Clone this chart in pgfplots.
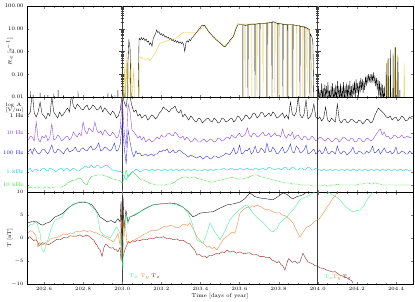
\documentclass[border=0pt]{standalone}
\usepackage{pgfplots}
\usepackage{pgfplotstable}
\pgfplotsset{compat=1.18}
\definecolor{cyel}{RGB}{235,200,40}
\definecolor{cpur}{RGB}{130,60,230}
\definecolor{cblu}{RGB}{40,40,220}
\definecolor{ccya}{RGB}{0,210,230}
\definecolor{cgrn}{RGB}{60,220,60}
\definecolor{cmint}{RGB}{60,240,150}
\definecolor{corg}{RGB}{240,130,50}
\definecolor{cbrn}{RGB}{140,20,20}

\pgfplotstableread{
d k p b c g
202.52 77 52 40 22 4
202.53 80 56 43 24 5
202.54 100 55 38 20 4
202.55 79 51 44 22 4
202.56 75 70 41 23 5
202.57 80 53 38 21 5
202.58 90 50 39 21 4
202.59 78 56 42 23 4
202.60 76 54 43 24 4
202.61 73 57 40 22 5
202.62 79 51 38 21 5
202.63 76 55 42 24 4
202.64 95 68 47 23 4
202.65 80 52 40 22 5
202.66 77 53 39 20 5
202.67 74 57 43 22 5
202.68 80 55 42 23 5
202.69 76 51 40 24 5
202.70 78 53 38 21 6
202.71 81 55 42 23 7
202.72 84 56 44 24 9
202.73 80 52 40 21 10
202.74 97 54 41 22 11
202.75 86 60 42 24 12
202.76 83 57 45 23 12
202.77 88 55 41 21 13
202.78 86 59 40 21 14
202.79 83 56 43 23 13
202.80 82 70 44 24 10
202.81 85 61 42 26 8
202.82 87 58 41 25 7
202.83 82 64 44 24 12
202.84 84 62 46 27 15
202.85 87 60 42 25 16
202.86 85 70 43 24 16
202.87 82 62 45 27 17
202.88 83 59 49 26 17
202.89 86 61 41 24 17
202.90 80 57 42 25 17
202.91 84 62 45 26 16
202.92 82 60 44 27 16
202.93 79 57 42 25 15
202.94 77 56 41 24 14
202.95 81 60 44 22 13
202.96 79 58 49 21 13
202.97 74 54 41 22 12
202.98 76 55 42 20 12
202.99 82 64 48 21 11
203.00 98 92 70 19 9
203.01 90 60 45 15 14
203.02 85 45 28 12 22
203.03 100 88 62 16 15
203.04 95 80 50 18 17
203.05 86 62 40 20 20
203.06 80 60 35 21 19
203.07 82 57 41 23 17
203.08 76 54 38 22 15
203.09 78 56 39 20 13
203.10 74 52 36 21 12
203.11 76 55 37 22 12
203.12 77 50 38 23 11
203.13 72 52 36 22 10
203.14 74 53 37 21 9
203.15 77 50 38 23 8
203.16 76 51 36 22 8
203.17 73 53 38 21 7
203.18 75 55 38 23 7
203.19 79 53 41 22 7
203.20 81 57 40 21 7
203.21 85 55 42 22 7
203.22 83 55 41 23 7
203.23 82 58 43 21 8
203.24 80 59 39 22 8
203.25 83 57 40 23 8
203.26 84 56 42 21 9
203.27 86 60 39 22 10
203.28 81 58 40 23 12
203.29 79 55 42 21 13
203.30 82 54 41 22 14
203.31 75 56 39 23 15
203.32 78 52 38 21 15
203.33 75 55 36 22 15
203.34 72 53 35 23 14
203.35 76 50 37 21 14
203.36 74 51 36 22 15
203.37 71 54 35 23 15
203.38 70 52 34 21 14
203.39 74 50 35 22 13
203.40 73 50 36 22 13
203.41 69 52 33 21 12
203.42 71 53 34 23 12
203.43 73 50 36 22 11
203.44 74 51 35 21 11
203.45 71 53 33 23 10
203.46 70 52 34 22 10
203.47 74 50 36 21 10
203.48 72 51 36 23 11
203.49 69 54 34 22 11
203.50 70 53 35 22 12
203.51 74 51 36 23 12
203.52 73 52 37 24 13
203.53 70 54 39 22 13
203.54 71 55 38 22 14
203.55 73 53 37 23 14
203.56 74 57 40 24 15
203.57 70 55 44 22 14
203.58 72 54 38 23 14
203.59 76 57 40 22 13
203.60 75 59 47 24 13
203.61 71 55 38 23 13
203.62 73 56 39 22 13
203.63 77 58 42 23 14
203.64 76 64 41 24 14
203.65 73 57 44 22 15
203.66 75 55 38 23 16
203.67 79 59 40 22 17
203.68 78 58 46 24 17
203.69 74 55 39 23 17
203.70 76 56 40 22 16
203.71 80 58 44 23 15
203.72 79 60 42 24 15
203.73 75 56 39 22 14
203.74 77 57 49 23 14
203.75 79 59 41 25 13
203.76 76 55 40 24 13
203.77 80 57 45 23 12
203.78 78 59 42 22 12
203.79 74 56 38 23 11
203.80 75 57 39 24 11
203.81 77 55 42 22 10
203.82 79 63 45 23 10
203.83 74 56 39 25 9
203.84 77 54 40 24 9
203.85 73 58 43 22 9
203.86 90 56 48 23 9
203.87 78 60 40 25 8
203.88 76 53 39 24 8
203.89 80 56 46 22 8
203.90 95 57 44 22 8
203.91 77 54 39 24 7
203.92 74 52 40 24 7
203.93 78 56 42 22 7
203.94 92 55 47 23 7
203.95 73 52 38 25 7
203.96 75 53 39 24 7
203.97 79 56 41 22 6
203.98 88 54 43 22 6
203.99 75 51 38 24 6
204.00 73 52 40 23 6
204.01 75 55 42 22 6
204.02 71 54 38 21 6
204.03 74 52 40 23 7
204.04 85 51 45 22 7
204.05 72 54 39 21 6
204.06 70 53 38 23 6
204.07 74 50 41 22 7
204.08 72 51 40 21 7
204.09 70 54 38 23 7
204.10 88 53 46 22 8
204.11 72 50 40 21 7
204.12 69 52 38 23 7
204.13 72 55 41 22 7
204.14 73 54 40 21 7
204.15 69 52 37 23 7
204.16 70 51 39 22 7
204.17 73 54 41 21 7
204.18 72 53 45 23 7
204.19 70 50 39 22 7
204.20 69 51 38 21 7
204.21 72 54 41 23 8
204.22 71 53 40 22 8
204.23 68 50 38 21 8
204.24 70 51 38 23 9
204.25 73 54 41 22 9
204.26 72 53 39 21 9
204.27 69 51 41 23 8
204.28 70 52 46 22 8
204.29 76 55 39 21 9
204.30 80 58 40 23 9
204.31 84 61 43 22 8
204.32 82 63 38 21 8
204.33 80 57 41 23 7
204.34 78 60 44 22 7
204.35 75 55 40 21 7
204.36 74 56 39 23 7
204.37 76 53 41 22 7
204.38 72 54 38 21 7
204.39 74 57 40 23 7
204.40 75 56 45 22 7
204.41 71 54 38 21 7
204.42 73 55 39 23 7
204.43 76 57 41 22 7
204.44 74 54 40 21 7
204.45 71 55 38 23 7
204.46 72 56 38 22 7
204.47 75 54 41 21 7
204.48 73 55 39 22 7
}\midtab

\begin{document}
\begin{tikzpicture}[x=1bp,y=1bp]
\useasboundingbox (0,0) rectangle (415,-302);
\pgfplotsset{every axis/.append style={
  scale only axis, width=386bp, xmin=202.513, xmax=204.487,
  font=\fontsize{5.5}{6}\selectfont,
  tick align=inside, major tick length=2.5bp, minor tick length=1.5bp,
  xtick={202.6,202.8,203.0,203.2,203.4,203.6,203.8,204.0,204.2,204.4},
  minor x tick num=3,
  axis line style={line width=0.6pt},
  every axis plot/.append style={line width=0.35pt},
  extra x ticks={203,204}, extra x tick labels={},
  extra x tick style={grid=major, major grid style={black!75, line width=0.9pt}},
  ylabel style={font=\fontsize{5.5}{6}\selectfont},
}}

% ---------- top panel ----------
\begin{axis}[at={(27bp,-6bp)}, anchor=north west, height=91bp,
  ymode=log, ymin=0.01, ymax=100,
  ytick={0.01,0.1,1,10,100}, yticklabels={0.01,0.10,1.00,10.00,100.00},
  yminorticks=false, xticklabels={},
  ylabel={$R_e$ [s$^{-1}$]},
  ylabel style={at={(axis description cs:-0.045,0.5)}, anchor=center}]
\pgfplotsinvokeforeach{0.02,0.03,0.04,0.05,0.06,0.07,0.08,0.09,0.2,0.3,0.4,0.5,0.6,0.7,0.8,0.9,2,3,4,5,6,7,8,9,20,30,40,50,60,70,80,90}{
  \draw[black!75, line width=0.3pt] ([xshift=-1.5bp]axis cs:203,#1) -- ([xshift=1.5bp]axis cs:203,#1);
  \draw[black!75, line width=0.3pt] ([xshift=-1.5bp]axis cs:204,#1) -- ([xshift=1.5bp]axis cs:204,#1);
}
\pgfplotsinvokeforeach{0.1,1,10}{
  \draw[black!75, line width=0.4pt] ([xshift=-3bp]axis cs:203,#1) -- ([xshift=3bp]axis cs:203,#1);
  \draw[black!75, line width=0.4pt] ([xshift=-3bp]axis cs:204,#1) -- ([xshift=3bp]axis cs:204,#1);
}
\addplot[cyel] coordinates {
(203.004,0.005)(203.014,0.3)(203.016,0.005)(203.024,0.9)(203.026,0.005)(203.045,0.5)(203.047,0.005)
(203.060,0.2)(203.062,0.005)(203.088,0.005)(203.091,0.6)(203.101,0.5)(203.116,0.45)(203.132,0.5)
(203.142,0.4)(203.167,0.8)(203.193,2.3)(203.219,2.8)(203.244,3.2)(203.260,3.2)(203.285,4.5)
(203.311,7)(203.346,7)(203.382,7)(203.397,9)(203.423,14)(203.449,6.5)(203.474,4)(203.500,2.5)
(203.525,1.6)(203.551,2.5)(203.566,4.3)(203.582,12)(203.592,18)(203.600,16)
(203.627,16)(203.628,0.005)(203.629,16)(203.662,16)(203.663,0.005)(203.664,16)
(203.688,16)(203.689,0.005)(203.690,16)(203.719,17)(203.720,0.005)(203.721,17)
(203.744,18)(203.745,0.005)(203.746,18)(203.780,19)(203.781,0.005)(203.782,18)
(203.805,17)(203.806,0.005)(203.807,17)(203.841,15)(203.842,0.005)(203.843,15)
(203.867,15)(203.868,0.005)(203.869,15)(203.892,14)(203.893,0.005)(203.894,14)
(203.923,12)(203.924,0.005)(203.925,12)(203.944,10)(203.945,0.005)(203.946,10)
(203.965,5)(203.970,0.005)};
\addplot[cyel] coordinates {
(204.355,0.005)(204.357,0.4)(204.359,0.005)(204.368,0.005)(204.370,0.9)(204.372,0.005)
(204.390,0.005)(204.392,1.6)(204.394,0.005)(204.405,0.005)(204.407,0.7)(204.409,0.005)
(204.440,0.005)(204.442,0.3)(204.444,0.005)};
\addplot[black] coordinates {
(202.513,0.005)(202.530,0.005)(202.531,0.018)(202.532,0.005)(202.543,0.005)(202.544,0.013)(202.545,0.005)
(202.579,0.005)(202.580,0.015)(202.581,0.005)(202.619,0.005)(202.620,0.012)(202.621,0.005)
(202.649,0.005)(202.650,0.014)(202.651,0.005)(202.671,0.005)(202.672,0.02)(202.673,0.005)
(202.699,0.005)(202.700,0.012)(202.701,0.005)(202.773,0.005)(202.774,0.018)(202.775,0.005)
(202.926,0.005)(202.927,0.016)(202.928,0.005)(202.945,0.005)(202.946,0.013)(202.947,0.005)
(202.962,0.005)(202.963,0.012)(202.964,0.005)(202.977,0.005)(202.978,0.02)(202.979,0.005)
(203.008,0.005)(203.009,0.03)(203.010,0.005)(203.028,0.005)(203.029,0.3)(203.034,3.0)
(203.040,1.5)(203.045,0.005)(203.081,0.005)
(203.086,3.9)(203.092,3.2)(203.098,4.1)(203.104,3.3)(203.110,3.9)(203.116,3.0)(203.122,3.6)
(203.128,2.6)(203.134,2.9)(203.140,2.0)(203.146,2.4)(203.152,1.7)(203.158,3.5)(203.164,4.8)
(203.170,6.0)(203.176,8.9)(203.182,6.8)(203.188,7.5)(203.194,5.5)(203.200,6.2)(203.206,5.0)
(203.212,5.6)(203.218,4.3)(203.224,4.8)(203.230,3.9)(203.236,4.2)(203.242,3.4)(203.248,3.8)
(203.254,3.0)(203.260,3.4)(203.266,2.7)(203.272,3.1)(203.278,2.5)(203.284,2.9)(203.290,2.3)
(203.296,2.7)(203.302,2.2)(203.308,2.6)(203.314,2.0)(203.320,1.0)(203.326,2.4)(203.332,3.0)
(203.338,2.6)(203.344,3.4)(203.350,3.0)(203.356,4.0)(203.362,4.4)(203.368,5.2)(203.374,5.8)
(203.380,7.0)(203.386,8.0)(203.392,9.5)(203.398,10.5)(203.404,13)(203.410,14.6)(203.416,13.5)
(203.422,14)(203.428,11)(203.434,9.5)(203.440,7.5)(203.446,6.8)(203.452,5.8)(203.458,5.2)
(203.464,4.5)(203.470,4.1)(203.476,3.6)(203.482,3.2)(203.488,2.9)(203.494,2.6)(203.500,2.4)
(203.506,2.1)(203.512,1.9)(203.518,1.7)(203.524,1.6)(203.530,1.8)(203.536,2.1)(203.542,2.4)
(203.548,2.9)(203.554,3.4)(203.560,3.9)(203.566,4.3)(203.572,5.5)(203.578,8)(203.584,11)
(203.592,15)(203.600,15)
(203.616,15)(203.617,0.005)(203.618,15)(203.630,14)
(203.642,15)(203.643,0.005)(203.644,15)(203.660,16)
(203.678,16)(203.679,0.005)(203.680,16)
(203.703,17)(203.704,0.005)(203.705,17)(203.720,17)
(203.739,18)(203.740,0.005)(203.741,18)
(203.765,19)(203.766,0.005)(203.767,20)(203.775,20)
(203.795,17)(203.796,0.005)(203.797,17)
(203.821,16)(203.822,0.005)(203.823,16)
(203.846,15)(203.847,0.005)(203.848,15)
(203.872,15)(203.873,0.005)(203.874,15)(203.890,14)
(203.908,14)(203.909,0.005)(203.910,13)
(203.933,12)(203.934,0.005)(203.935,12)(203.950,10)
(203.959,9)(203.960,0.005)(203.961,6)(203.970,4.3)(203.975,2.6)(203.980,0.005)
(204.000,0.005)(204.004,0.03)(204.008,0.006)(204.012,0.02)(204.016,0.005)(204.020,0.04)
(204.024,0.008)(204.028,0.025)(204.032,0.005)(204.036,0.035)(204.040,0.01)(204.044,0.03)
(204.048,0.005)(204.052,0.045)(204.056,0.007)(204.060,0.02)(204.064,0.005)(204.068,0.03)
(204.072,0.009)(204.076,0.04)(204.080,0.005)(204.084,0.025)(204.088,0.006)(204.092,0.035)
(204.096,0.005)(204.100,0.05)(204.104,0.01)(204.108,0.03)(204.112,0.006)(204.116,0.04)
(204.120,0.005)(204.124,0.03)(204.128,0.008)(204.132,0.045)(204.136,0.006)(204.140,0.03)
(204.144,0.005)(204.148,0.04)(204.152,0.01)(204.156,0.035)(204.160,0.006)(204.164,0.05)
(204.168,0.008)(204.172,0.03)(204.176,0.005)(204.180,0.04)(204.184,0.012)(204.188,0.05)
(204.192,0.008)(204.196,0.06)(204.200,0.015)(204.204,0.04)(204.208,0.01)(204.212,0.05)
(204.216,0.015)(204.220,0.07)(204.224,0.02)(204.228,0.06)(204.232,0.015)(204.236,0.05)
(204.240,0.02)(204.244,0.08)(204.248,0.03)(204.252,0.09)(204.256,0.04)(204.260,0.1)
(204.264,0.05)(204.268,0.09)(204.272,0.04)(204.276,0.1)(204.280,0.05)(204.284,0.12)
(204.288,0.04)(204.292,0.09)(204.296,0.03)(204.300,0.07)(204.304,0.02)(204.308,0.06)
(204.312,0.01)(204.316,0.05)(204.320,0.008)(204.324,0.04)(204.328,0.006)(204.332,0.035)
(204.336,0.005)(204.340,0.03)(204.344,0.005)
(204.349,0.005)(204.350,0.3)(204.352,0.005)(204.359,0.005)(204.360,0.5)(204.362,0.005)
(204.371,0.005)(204.372,1.2)(204.374,0.005)(204.384,0.005)(204.385,0.8)(204.387,0.005)
(204.397,0.005)(204.398,1.5)(204.400,0.005)(204.409,0.005)(204.410,0.6)(204.412,0.005)
(204.419,0.005)(204.420,0.02)(204.421,0.005)(204.487,0.005)};
\end{axis}

% ---------- middle panel ----------
\begin{axis}[at={(27bp,-97bp)}, anchor=north west, height=95bp,
  ymin=0, ymax=95, ytick={7,20,39,59,76},
  yticklabels={{\color{cgrn}10 kHz},{\color{ccya}1 kHz},{\color{cblu}100 Hz},{\color{cpur}10 Hz},{\color{black}1 Hz}},
  xticklabels={}]
\addplot[cgrn] table[x=d,y=g] {\midtab};
\addplot[ccya] table[x=d,y=c] {\midtab};
\addplot[cblu] table[x=d,y=b] {\midtab};
\addplot[cpur] table[x=d,y=p] {\midtab};
\addplot[black] table[x=d,y=k] {\midtab};
\end{axis}
\node[font=\fontsize{5}{5.5}\selectfont, align=left, anchor=west] at (2,-108) {log A\\{[V/m]}};

% ---------- bottom panel ----------
\begin{axis}[at={(27bp,-192bp)}, anchor=north west, height=92bp,
  ymin=-10, ymax=10, ytick={-10,-5,0,5,10},
  xticklabel style={/pgf/number format/.cd, fixed, precision=1, fixed zerofill},
  xlabel={Time [days of year]}, ylabel={T [nT]},
  xlabel style={yshift=4bp},
  ylabel style={at={(axis description cs:-0.045,0.5)}, anchor=center}]
\addplot[cbrn] coordinates {
(202.518,0)(202.528,0.3)(202.539,-0.2)(202.547,-0.6)(202.554,-0.4)(202.562,-0.5)(202.569,-1.0)
(202.575,-1.6)(202.580,-1.5)(202.592,-1.0)(202.605,-1.3)(202.625,-1.4)(202.646,-0.9)(202.664,-0.3)
(202.682,-0.4)(202.700,0.1)(202.718,0)(202.733,0.5)(202.748,0.4)(202.766,0.4)(202.784,0.7)
(202.797,0.3)(202.810,0.5)(202.822,0.6)(202.835,0.2)(202.846,-0.2)(202.856,-0.5)(202.864,-1.3)
(202.871,-1.5)(202.878,-2.2)(202.886,-2.5)(202.897,-4)(202.907,-2.0)(202.915,-1.4)(202.922,-1.5)
(202.933,-2.0)(202.943,-2.2)(202.953,-2.1)(202.963,-2.6)(202.970,-2.5)(202.978,-3.0)(202.989,-2.0)
(202.994,-5)(202.999,-2)(203.004,-4)(203.014,-2.5)(203.024,-1.5)(203.032,-0.8)(203.040,-1.1)
(203.052,-0.6)(203.065,-0.8)(203.078,-0.4)(203.091,-0.6)(203.108,-0.2)(203.126,-0.4)(203.141,0)
(203.157,-0.2)(203.175,0.2)(203.193,0)(203.211,0.3)(203.229,-0.2)(203.245,0)(203.260,-0.4)
(203.278,-0.2)(203.295,-0.6)(203.313,-0.5)(203.331,-1.1)(203.344,-1.2)(203.357,-2.0)(203.370,-2.6)
(203.382,-3.7)(203.395,-3.6)(203.408,-4.0)(203.420,-3.9)(203.433,-4.3)(203.446,-3.7)(203.459,-3.8)
(203.471,-3.6)(203.484,-3.3)(203.497,-3.4)(203.510,-3.0)(203.523,-3.2)(203.536,-2.6)(203.551,-3.1)
(203.566,-2.8)(203.584,-3.3)(203.602,-3.0)(203.620,-3.4)(203.638,-3.3)(203.653,-3.2)(203.668,-3.7)
(203.686,-3.6)(203.704,-4.0)(203.722,-4.0)(203.740,-4.3)(203.753,-4.2)(203.766,-4.8)(203.778,-5.0)
(203.791,-5.4)(203.802,-5.1)(203.812,-5.8)(203.820,-6.0)(203.827,-6.5)(203.832,-7.0)(203.842,-5.5)
(203.850,-4.5)(203.858,-4.8)(203.870,-5.3)(203.883,-5.0)(203.896,-5.5)(203.909,-5.2)(203.919,-4.0)
(203.924,-3.3)(203.930,-3.8)(203.939,-4.5)(203.950,-5.2)(203.960,-5.4)(203.972,-5.6)(203.985,-6.0)
(203.998,-6.1)(204.011,-6.5)(204.029,-6.6)(204.047,-7.0)(204.062,-7.2)(204.078,-7.4)(204.088,-7.3)
(204.098,-7.6)(204.114,-8.1)(204.129,-8.3)(204.146,-8.6)(204.164,-9.1)(204.172,-9.2)(204.180,-9.8)};
\addplot[corg] coordinates {
(202.518,1.1)(202.531,1.6)(202.544,1.3)(202.552,0.9)(202.559,0.5)(202.569,-2)(202.577,-1.0)
(202.585,-1.2)(202.595,-1.5)(202.607,-0.9)(202.620,-0.8)(202.633,-0.2)(202.646,0)(202.664,0.1)
(202.682,0.4)(202.700,0.9)(202.718,0.7)(202.733,1.1)(202.748,1.0)(202.766,1.5)(202.784,1.3)
(202.802,1.7)(202.820,1.4)(202.835,1.6)(202.851,1.3)(202.868,1.1)(202.886,0.7)(202.897,0.6)
(202.907,0.3)(202.915,0.1)(202.922,0)(202.930,-0.2)(202.937,-0.4)(202.945,-0.5)(202.953,-0.9)
(202.960,-0.5)(202.968,0)(202.978,1.0)(202.989,-1.5)(202.994,6)(202.999,-4)(203.004,8)(203.009,0)
(203.014,4)(203.024,-1)(203.032,-0.7)(203.040,-1.1)(203.052,-0.6)(203.065,-0.4)(203.078,0)
(203.091,0.2)(203.108,0.8)(203.126,1.0)(203.141,1.5)(203.157,1.7)(203.175,1.6)(203.193,2.0)
(203.211,2.5)(203.229,2.4)(203.245,2.8)(203.260,2.6)(203.278,2.2)(203.295,2.4)(203.308,2.9)
(203.321,3.0)(203.333,2.7)(203.346,3.3)(203.362,2.0)(203.372,1.2)(203.382,0.2)(203.395,-0.4)
(203.408,-1.0)(203.420,-1.3)(203.433,-2.0)(203.446,-1.8)(203.459,-2.3)(203.471,-2.0)(203.484,-2.6)
(203.500,-1.5)(203.515,-0.4)(203.528,0.2)(203.541,0.5)(203.553,1.0)(203.566,1.3)(203.576,1.0)
(203.592,3.5)(203.602,5.4)(203.620,6.2)(203.638,6.7)(203.650,6.5)(203.663,7.0)(203.676,6.8)
(203.689,7.2)(203.701,6.9)(203.714,6.7)(203.727,6.3)(203.740,6.1)(203.753,6.2)(203.766,5.8)
(203.778,5.6)(203.791,5.4)(203.804,5.5)(203.817,5.0)(203.830,4.9)(203.842,4.6)(203.858,4.0)
(203.873,3.3)(203.883,2.4)(203.893,1.5)(203.909,0.2)(203.924,1.2)(203.935,1.9)(203.945,2.4)
(203.958,2.6)(203.970,3.0)(203.983,3.6)(203.996,3.9)(204.008,4.2)(204.021,5.0)(204.034,5.8)
(204.047,6.7)(204.060,7.4)(204.072,8.3)(204.085,9.0)(204.098,9.8)(204.118,11)};
\addplot[black] coordinates {
(202.518,3.3)(202.540,3.6)(202.564,3.5)(202.580,3.0)(202.595,2.8)(202.610,3.2)(202.631,3.5)
(202.656,4.6)(202.675,4.9)(202.697,5.4)(202.715,6.2)(202.733,6.8)(202.750,7.3)(202.769,7.6)
(202.799,7.8)(202.825,7.6)(202.845,7.2)(202.860,6.4)(202.871,5.7)(202.886,4.6)(202.907,4.0)
(202.922,3.5)(202.943,3.8)(202.963,3.3)(202.978,4.2)(202.989,3.5)(202.994,8)(202.999,-3)
(203.004,9)(203.009,2)(203.019,6)(203.029,3.5)(203.040,4.6)(203.065,5.0)(203.091,5.7)
(203.121,6.5)(203.157,7.2)(203.193,7.4)(203.220,7.5)(203.244,7.6)(203.280,7.4)(203.311,6.7)
(203.336,5.8)(203.362,4.6)(203.382,5.0)(203.397,5.4)(203.433,5.6)(203.464,5.7)(203.500,6.5)
(203.536,7.2)(203.566,7.4)(203.602,7.8)(203.628,8.6)(203.653,9.8)(203.679,9.0)(203.704,8.7)
(203.740,8.5)(203.771,8.3)(203.796,9.0)(203.822,9.8)(203.842,9.5)(203.858,8.9)(203.873,8.5)
(203.893,9.0)(203.919,9.3)(203.945,10.0)(203.960,10.6)};
\addplot[cmint] coordinates {
(202.518,2.4)(202.531,2.9)(202.544,3.0)(202.554,3.4)(202.564,3.2)(202.580,1.0)(202.590,-2.6)
(202.600,-3.0)(202.610,-1.5)(202.620,-0.4)(202.636,2.0)(202.656,3.9)(202.674,4.2)(202.692,4.6)
(202.712,5.9)(202.733,6.8)(202.751,7.4)(202.769,7.6)(202.784,7.9)(202.799,7.8)(202.812,7.9)
(202.825,7.6)(202.845,6.8)(202.861,6.0)(202.871,5.4)(202.886,1.7)(202.899,0.9)(202.912,0.5)
(202.925,0.3)(202.937,0)(202.948,0.6)(202.958,1.5)(202.973,2.4)(202.989,1.0)(202.994,-2)
(203.004,-7)(203.009,2)(203.019,5)(203.029,3)(203.040,4.6)(203.065,5.2)(203.091,5.7)(203.124,6.4)
(203.157,7.2)(203.200,7.5)(203.244,7.6)(203.278,7.2)(203.311,6.7)(203.336,5.5)(203.357,3.3)
(203.372,1.0)(203.382,-0.4)(203.398,-0.8)(203.413,-1.1)(203.433,1.0)(203.449,3.3)(203.462,2.2)
(203.474,1.3)(203.487,0.5)(203.500,-0.4)(203.525,1.5)(203.538,2.8)(203.551,3.9)(203.569,4.9)
(203.587,5.7)(203.602,6.3)(203.617,6.7)(203.630,7.1)(203.643,7.0)(203.656,6.2)(203.668,5.4)
(203.686,4.6)(203.704,3.9)(203.722,3.3)(203.740,2.4)(203.755,1.7)(203.771,1.3)(203.791,2.0)
(203.806,3.3)(203.824,4.0)(203.842,4.6)(203.858,5.4)(203.873,6.1)(203.891,7.2)(203.909,8.3)
(203.927,8.8)(203.945,9.0)(203.960,9.3)(203.975,9.8)(203.993,10.2)(204.011,10.0)(204.029,10.3)
(204.047,10.0)(204.062,9.8)(204.078,9.3)(204.096,8.9)(204.113,8.3)(204.126,7.6)(204.139,7.0)
(204.152,6.5)(204.164,6.1)(204.177,5.7)(204.190,5.8)(204.202,6.0)(204.215,6.1)(204.236,7.0)
(204.251,8.3)(204.267,9.2)(204.282,10)(204.308,10.8)};
\node[text=cmint] at (rel axis cs:0.277,0.08) {$\mathrm{T}_x$};
\node[text=corg] at (rel axis cs:0.306,0.08) {$\mathrm{T}_y$};
\node[text=cbrn] at (rel axis cs:0.334,0.08) {$\mathrm{T}_z$};
\node[text=cmint] at (rel axis cs:0.782,0.07) {$\mathrm{T}_x$};
\node[text=corg] at (rel axis cs:0.803,0.07) {$\mathrm{T}_y$};
\node[text=cbrn] at (rel axis cs:0.829,0.07) {$\mathrm{T}_z$};
\end{axis}
\end{tikzpicture}
\end{document}
